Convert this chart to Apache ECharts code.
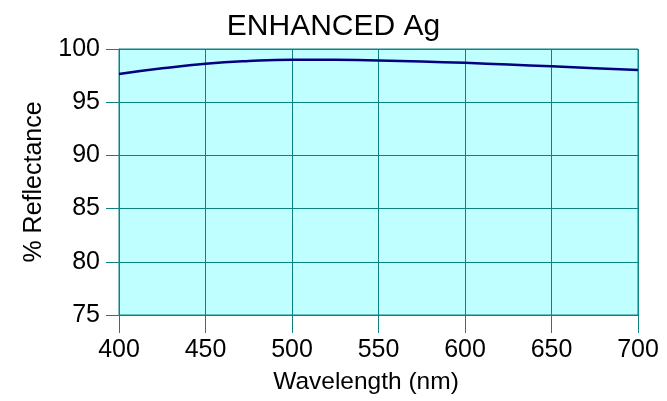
<!DOCTYPE html>
<html>
<head>
<meta charset="utf-8">
<script src="https://cdn.jsdelivr.net/npm/echarts@6/dist/echarts.min.js"></script>
<style>
  html, body { margin: 0; padding: 0; background: #ffffff; }
  #chart { width: 667px; height: 401px; }
</style>
</head>
<body>
<div id="chart"></div>
<script>
// Reflectance curve of an enhanced silver coating
const wavelengths = [400, 425, 450, 475, 500, 525, 550, 575, 600, 625, 650, 675, 700];
const reflectance = [97.65, 98.18, 98.62, 98.88, 99.0, 98.98, 98.92, 98.82, 98.7, 98.54, 98.37, 98.2, 98.03];
const xTicks = [400, 450, 500, 550, 600, 650, 700];
const yTicks = [75, 80, 85, 90, 95, 100];

const teal = '#0c8282';
const font = 'Liberation Sans, Arial, sans-serif';

const chart = echarts.init(document.getElementById('chart'), null, { renderer: 'canvas' });
chart.setOption({
  animation: false,
  backgroundColor: '#ffffff',
  title: {
    text: 'ENHANCED Ag',
    left: 'center',
    top: 12,
    padding: 0,
    textStyle: { fontFamily: font, fontSize: 30, fontWeight: 'normal', color: '#000000' }
  },
  grid: {
    left: 119, top: 49, width: 519, height: 266,
    show: true, backgroundColor: '#c0ffff', borderColor: teal, borderWidth: 1
  },
  xAxis: {
    type: 'value',
    min: xTicks[0], max: xTicks[xTicks.length - 1], interval: 50,
    name: 'Wavelength (nm)',
    nameLocation: 'middle',
    nameGap: 55,
    nameTextStyle: { fontFamily: font, fontSize: 24.5, color: '#000000', padding: [0, 25, 0, 0] },
    axisLine: { show: true, lineStyle: { color: teal, width: 1 } },
    axisTick: { show: true, length: 18, lineStyle: { color: teal, width: 1 } },
    axisLabel: { margin: 23, fontFamily: font, fontSize: 25, color: '#000000' },
    splitLine: { show: true, lineStyle: { color: teal, width: 1 } }
  },
  yAxis: {
    type: 'value',
    min: yTicks[0], max: yTicks[yTicks.length - 1], interval: 5,
    name: '% Reflectance',
    nameLocation: 'middle',
    nameGap: 72,
    nameTextStyle: { fontFamily: font, fontSize: 25, color: '#000000' },
    axisLine: { show: true, lineStyle: { color: teal, width: 1 } },
    axisTick: { show: true, length: 13, lineStyle: { color: teal, width: 1 } },
    axisLabel: { margin: 19, fontFamily: font, fontSize: 25, color: '#000000' },
    splitLine: { show: true, lineStyle: { color: teal, width: 1 } }
  },
  series: [{
    type: 'line',
    data: wavelengths.map((w, i) => [w, reflectance[i]]),
    smooth: true,
    showSymbol: false,
    lineStyle: { color: '#000080', width: 2.5 }
  }]
});
</script>
</body>
</html>
